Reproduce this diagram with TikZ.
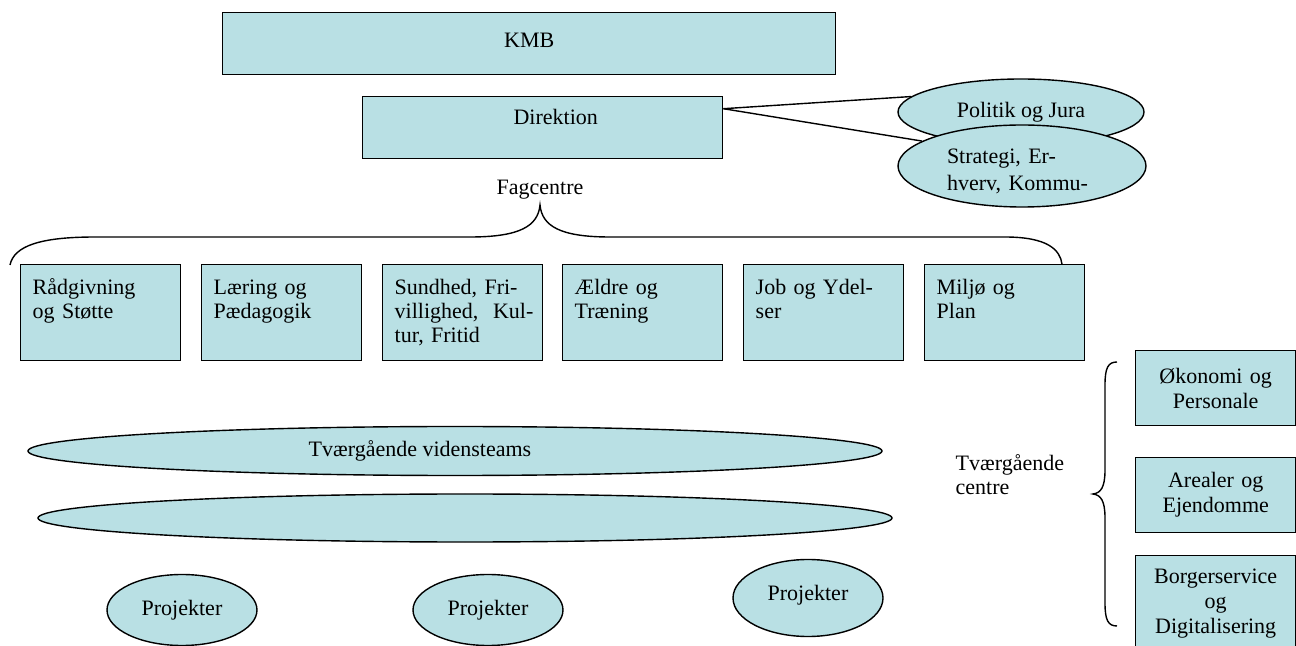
\documentclass[tikz,border=0pt]{standalone}
\usepackage{fontspec}
\setmainfont{Liberation Serif}
\usetikzlibrary{shapes.geometric}
\definecolor{boxcol}{RGB}{185,224,228}

\tikzset{
	every node/.style={font=\fontsize{11}{12}\selectfont},
	box/.style={draw, rectangle, fill=boxcol, inner sep=0pt, anchor=north west},
	fagbox/.style={box, minimum width=80pt, minimum height=48pt, text width=68pt, align=left, text height=15pt, text depth=33pt},
	sidebox/.style={box, minimum width=80pt, text width=78pt, align=center, font=\fontsize{11}{12.5}\selectfont},
	ell/.style={draw, ellipse, fill=boxcol, inner sep=0pt},
	proj/.style={ell, minimum width=75pt, minimum height=35.5pt},
}

\begin{document}
\begin{tikzpicture}[x=0.5pt, y=-0.5pt, line width=0.7pt]
				\useasboundingbox (0,0) rectangle (1296,646);
				% ledelse
				\node[box, minimum width=306.5pt, minimum height=31pt, text height=17.5pt, text depth=13.5pt] (K)at(222, 12) {KMB};
				\node[box, minimum width=180pt, minimum height=31pt, text height=14pt, text depth=17pt] (D)at(362, 96) {\hspace*{13pt}Direktion};
				\node[ell, minimum width=123pt, minimum height=33pt] (P)at(1021, 112) {Politik og Jura};
				\node[ell, minimum width=124pt, minimum height=41pt, text width=75pt, align=left, text height=8pt, text depth=10pt, font=\fontsize{11}{13.5}\selectfont] (S)at(1022, 166) {Strategi, Er-\\hverv, Kommu-};
				\draw (D.6.6) -- (P.172.3);
				\draw (D.6.4) -- (S.166.8);
				% fagcentre
				\node (F)at(540, 190) {Fagcentre};
				\draw (10, 265) .. controls (14, 246) and (40, 237) .. (95, 237) -- (470, 237) .. controls (520, 237) and (538, 226) .. (540, 205) .. controls (542, 226) and (560, 237) .. (610, 237) -- (1005, 237) .. controls (1048, 237) and (1060, 250) .. (1062, 264);
				\node[fagbox] (F1)at(20, 264) {Rådgivning\\og Støtte};
				\node[fagbox] (F2)at(201, 264) {Læring og\\Pædagogik};
				\node[fagbox] (F3)at(382, 264) {Sundhed, Fri-\\\mbox{villighed,\ \ Kul-}\\tur, Fritid};
				\node[fagbox] (F4)at(562, 264) {Ældre og\\Træning};
				\node[fagbox] (F5)at(743, 264) {Job og Ydel-\\ser};
				\node[fagbox] (F6)at(924, 264) {Miljø og\\Plan};
				% tvaergaende centre
				\node[anchor=west, align=left, inner sep=0pt] (T)at(955, 475) {Tværgående\\centre};
				\draw (1117, 362) .. controls (1108, 362) and (1105, 368) .. (1105, 385) -- (1105, 470) .. controls (1105, 487) and (1101, 493) .. (1093, 494) .. controls (1101, 495) and (1105, 501) .. (1105, 518) -- (1105, 603) .. controls (1105, 620) and (1108, 626) .. (1117, 626);
				\node[sidebox, minimum height=37.5pt] (C1)at(1135, 350) {Økonomi og\\Personale};
				\node[sidebox, minimum height=37.5pt] (C2)at(1135, 457) {Arealer og\\Ejendomme};
				\node[sidebox, minimum height=48pt] (C3)at(1135, 555) {Borgerservice\\og\\Digitalisering};
				% videnteams og projekter
				\node[ell, minimum width=427pt, minimum height=24.5pt] (V1)at(455, 451) {Tværgående vidensteams\hspace*{35pt}};
				\node[ell, minimum width=427pt, minimum height=24pt] (V2)at(465, 518) {};
				\node[proj] (PR1)at(182, 610) {Projekter};
				\node[proj] (PR2)at(488, 610) {Projekter};
				\node[proj, minimum height=38.5pt, text height=7.5pt, text depth=5pt] (PR3)at(808, 598) {Projekter};
			\end{tikzpicture}
\end{document}
